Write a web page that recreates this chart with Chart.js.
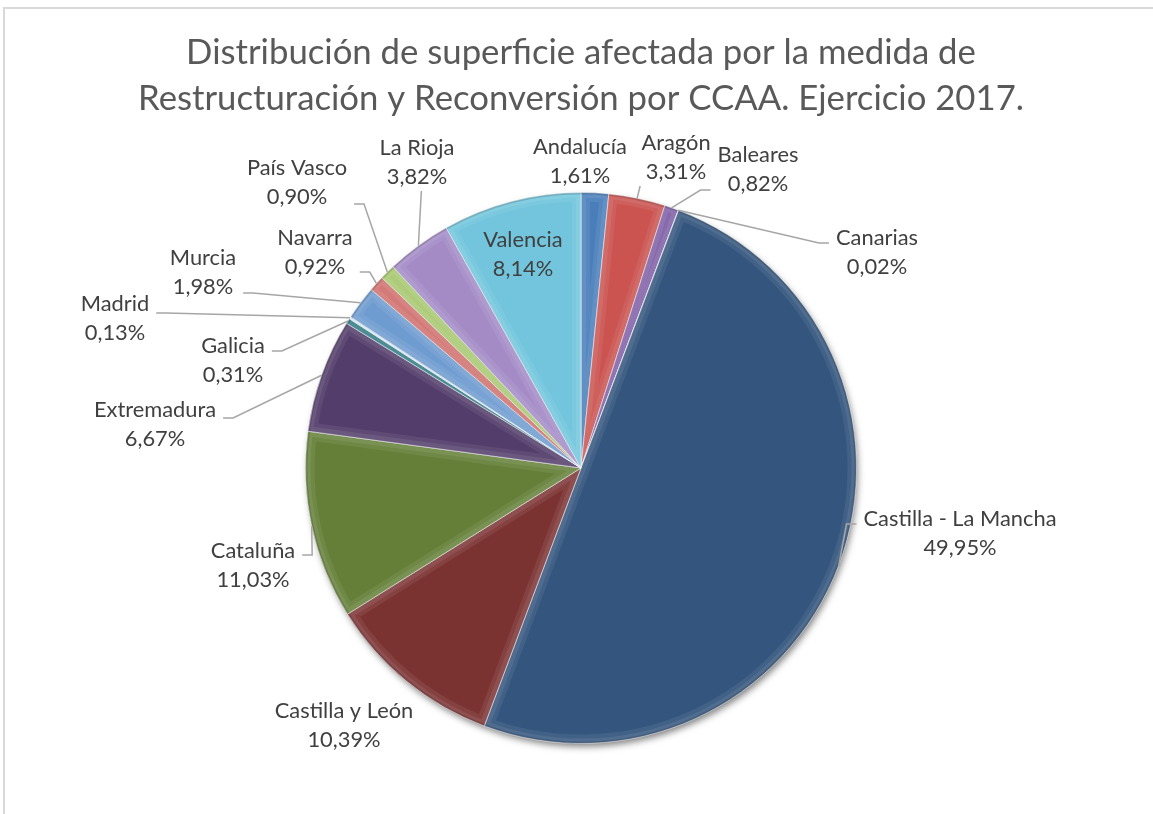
<!DOCTYPE html>
<html><head><meta charset="utf-8">
<script src="https://cdn.jsdelivr.net/npm/chart.js@4.4.1/dist/chart.umd.min.js"></script>
<style>
html,body{margin:0;padding:0;background:#fff;}
#wrap{position:relative;width:1153px;height:814px;overflow:hidden;background:#fff;}
#frame{position:absolute;left:3px;top:7px;width:1200px;height:900px;border:2px solid #D9D9D9;box-sizing:border-box;}
canvas{position:absolute;left:0;top:0;}
</style></head><body>
<div id="wrap"><div id="frame"></div><canvas id="c" width="1153" height="814"></canvas></div>
<script>
// ---- data ----
const categories = ["Andalucía","Aragón","Baleares","Canarias","Castilla - La Mancha","Castilla y León","Cataluña","Extremadura","Galicia","Madrid","Murcia","Navarra","País Vasco","La Rioja","Valencia"];
const shares = [1.61, 3.31, 0.82, 0.02, 49.95, 10.39, 11.03, 6.67, 0.31, 0.13, 1.98, 0.92, 0.90, 3.82, 8.14];
const valueLabels = ["1,61%","3,31%","0,82%","0,02%","49,95%","10,39%","11,03%","6,67%","0,31%","0,13%","1,98%","0,92%","0,90%","3,82%","8,14%"];
const titleLines = ["Distribución de superficie afectada por la medida de","Restructuración y Reconversión por CCAA. Ejercicio 2017."];

// ---- styles ----
const sliceColors = ["#4A7EBB","#CB5350","#7E5FA6","#9BBB59","#34557E","#7B3332","#657F38","#533D6B","#2E7A85","#DCE9EE","#6E9BD0","#D0706E","#A7C76F","#A48BC6","#72C5DC"];
// label block centre relative to pie centre, leader mode and attach offset
const labelOffsets = [[-1,-307],[95,-311],[177,-299],[296,-216],[379,65],[-237,257],[-328,97],[-426,-44],[-348,-108],[-466,-150],[-378,-196],[-266,-216],[-284,-286],[-164,-306],[-58,-214]];
const leaderModes = [null,'bottom','side','side','side',null,'side','side','side','side','side','side','side','bottom',null];
const leaderDy = [0,0,21,-9,-9,0,-10,-6,-9,-5,21,20,22,0,0];

const FONT = 'Lato, "Open Sans", "Liberation Sans", sans-serif';
const mctx = document.createElement('canvas').getContext('2d');
function fitSize(text, target){ mctx.font = '100px ' + FONT; return 100 * target / mctx.measureText(text).width; }
const titleSize = fitSize(titleLines[0], 790);
const labelSize = fitSize("Castilla - La Mancha", 193);
const LINE_GAP = 29;

function arcPath(ctx, p){
  ctx.beginPath();
  ctx.moveTo(p.x, p.y);
  ctx.arc(p.x, p.y, p.outerRadius, p.startAngle, p.endAngle);
  ctx.closePath();
}

const pieShadow = {
  id: 'pieShadow',
  beforeDatasetsDraw(chart){
    const arc = chart.getDatasetMeta(0).data[0];
    if(!arc) return;
    const p = arc.getProps(['x','y','outerRadius'], true);
    const ctx = chart.ctx;
    ctx.save();
    ctx.shadowColor = 'rgba(0,0,0,0.5)';
    ctx.shadowBlur = 7; ctx.shadowOffsetX = 2; ctx.shadowOffsetY = 4;
    ctx.beginPath(); ctx.arc(p.x, p.y, p.outerRadius - 1, 0, Math.PI*2);
    ctx.fillStyle = '#34557E'; ctx.fill();
    ctx.restore();
  },
  afterDatasetsDraw(chart){
    // soft bevel: faint light rim inside every slice, slight dark band at the outer edge
    const ctx = chart.ctx;
    chart.getDatasetMeta(0).data.forEach(arc => {
      const p = arc.getProps(['x','y','startAngle','endAngle','outerRadius'], true);
      if (p.endAngle - p.startAngle < 0.01) return;
      ctx.save();
      arcPath(ctx, p); ctx.clip();
      ctx.lineJoin = 'round';
      arcPath(ctx, p);
      ctx.strokeStyle = 'rgba(255,255,255,0.07)'; ctx.lineWidth = 18; ctx.stroke();
      arcPath(ctx, p);
      ctx.strokeStyle = 'rgba(255,255,255,0.08)'; ctx.lineWidth = 10; ctx.stroke();
      ctx.beginPath(); ctx.arc(p.x, p.y, p.outerRadius, p.startAngle, p.endAngle);
      ctx.strokeStyle = 'rgba(0,0,0,0.14)'; ctx.lineWidth = 4; ctx.stroke();
      ctx.restore();
    });
  }
};

const pieLabels = {
  id: 'pieLabels',
  afterDatasetsDraw(chart){
    const ctx = chart.ctx;
    const meta = chart.getDatasetMeta(0);
    ctx.save();
    ctx.font = labelSize.toFixed(2) + 'px ' + FONT;
    meta.data.forEach((arc, i) => {
      const p = arc.getProps(['x','y','startAngle','endAngle','outerRadius'], true);
      const mid = (p.startAngle + p.endAngle) / 2;
      const ax = p.x + Math.cos(mid) * p.outerRadius;
      const ay = p.y + Math.sin(mid) * p.outerRadius;
      const cx = p.x + labelOffsets[i][0], cy = p.y + labelOffsets[i][1];
      const lines = [categories[i], valueLabels[i]];
      const w = Math.max(...lines.map(t => ctx.measureText(t).width));
      ctx.strokeStyle = '#A6A6A6'; ctx.lineWidth = 1.5;
      if (leaderModes[i] === 'side') {
        const dir = ax > cx ? 1 : -1;
        const sx = cx + dir * (w / 2 + 7);
        const ex = sx + dir * 10;
        const y = cy + leaderDy[i];
        ctx.beginPath(); ctx.moveTo(sx, y); ctx.lineTo(ex, y); ctx.lineTo(ax, ay); ctx.stroke();
      } else if (leaderModes[i] === 'bottom') {
        ctx.beginPath(); ctx.moveTo(ax + 3, cy + 29); ctx.lineTo(ax, ay); ctx.stroke();
      }
      ctx.fillStyle = '#404040';
      ctx.textAlign = 'center'; ctx.textBaseline = 'middle';
      ctx.fillText(lines[0], cx, cy - LINE_GAP / 2);
      ctx.fillText(lines[1], cx, cy + LINE_GAP / 2);
    });
    ctx.restore();
  }
};

new Chart(document.getElementById('c'), {
  type: 'pie',
  data: {
    labels: categories,
    datasets: [{
      data: shares,
      backgroundColor: sliceColors,
      borderColor: 'rgba(255,255,255,0.55)',
      borderWidth: 1
    }]
  },
  options: {
    responsive: false,
    animation: false,
    devicePixelRatio: 1,
    layout: { padding: { left: 9, right: 0, top: 0, bottom: 70 } },
    plugins: {
      legend: { display: false },
      tooltip: { enabled: false },
      title: {
        display: true,
        text: titleLines,
        color: '#595959',
        font: { family: FONT, size: titleSize, weight: 'normal', lineHeight: 46 / titleSize },
        padding: { top: 30, bottom: 70 }
      }
    }
  },
  plugins: [pieShadow, pieLabels]
});
</script>
</body></html>
